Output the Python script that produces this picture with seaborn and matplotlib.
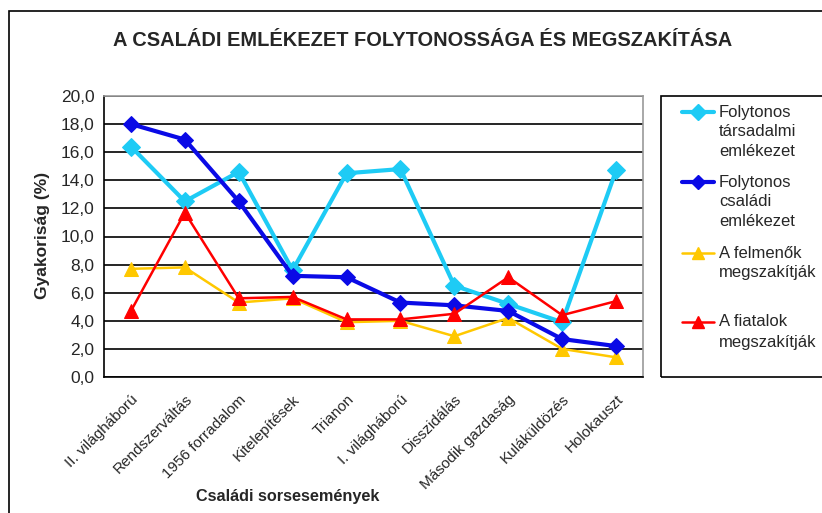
import numpy as np
import pandas as pd
import matplotlib
matplotlib.use("Agg")
import matplotlib.pyplot as plt
import seaborn as sns
from matplotlib.lines import Line2D
from matplotlib.patches import Rectangle
from matplotlib.ticker import FixedLocator

categories = ["II. világháború", "Rendszerváltás", "1956 forradalom", "Kitelepítések",
              "Trianon", "I. világháború", "Disszidálás", "Második gazdaság",
              "Kuláküldözés", "Holokauszt"]

tarsadalmi = [16.4, 12.5, 14.6, 7.6, 14.5, 14.8, 6.5, 5.2, 3.9, 14.7]
csaladi = [18.0, 16.9, 12.5, 7.2, 7.1, 5.3, 5.1, 4.7, 2.7, 2.2]
felmenok = [7.7, 7.8, 5.3, 5.6, 3.9, 4.0, 2.9, 4.2, 2.0, 1.4]
fiatalok = [4.7, 11.7, 5.6, 5.7, 4.1, 4.1, 4.5, 7.1, 4.4, 5.4]

series_names = ["Folytonos\ntársadalmi\nemlékezet", "Folytonos\ncsaládi\nemlékezet",
                "A felmenők\nmegszakítják", "A fiatalok\nmegszakítják"]
yticks = np.arange(0, 20.1, 2)
ytick_labels = [f"{v:.1f}".replace(".", ",") for v in yticks]

colors = ["#1ECBF5", "#0A0AE6", "#FFC800", "#FF0000"]
markers = ["D", "D", "^", "^"]
widths = [3.0, 3.0, 1.8, 1.8]
msizes = [9, 8, 10, 10]

df = pd.DataFrame({
    "esemeny": categories * 4,
    "ertek": tarsadalmi + csaladi + felmenok + fiatalok,
    "sor": np.repeat(series_names, len(categories)),
})

sns.set_style("white")
plt.rcParams["font.family"] = ["Liberation Sans", "DejaVu Sans"]

W, H = 822, 513
fig = plt.figure(figsize=(W / 100, H / 100), dpi=100)
ax = fig.add_axes([104 / W, (H - 377) / H, 539 / W, 281 / H])

for i, name in enumerate(series_names):
    sub = df[df["sor"] == name]
    sns.lineplot(data=sub, x="esemeny", y="ertek", ax=ax, color=colors[i],
                 marker=markers[i], markersize=msizes[i], markeredgecolor=colors[i],
                 linewidth=widths[i], sort=False, legend=False, zorder=3 + i % 2)

ax.set_xlim(-0.5, len(categories) - 0.5)
ax.set_ylim(0, 20)
ax.set_yticks(yticks)
ax.set_yticklabels(ytick_labels)
ax.grid(axis="y", color="black", linewidth=1.2)
ax.set_axisbelow(True)

ax.set_xticks(range(len(categories)))
ax.set_xticklabels(categories, rotation=45, ha="right", rotation_mode="anchor", fontsize=11)
ax.xaxis.set_minor_locator(FixedLocator(np.arange(-0.5, len(categories), 1)))
ax.tick_params(axis="x", which="major", length=0, pad=11)
ax.tick_params(axis="x", which="minor", length=5, width=1, color="black", direction="out")
ax.tick_params(axis="y", length=5, width=1, color="black", direction="out", labelsize=12.5, pad=2)
ax.set_xlabel("")
ax.set_ylabel("")

for side in ["top", "right"]:
    ax.spines[side].set_color("#999999")
    ax.spines[side].set_linewidth(1.2)
for side in ["left", "bottom"]:
    ax.spines[side].set_color("black")
    ax.spines[side].set_linewidth(1.2)

fig.text(423 / W, 1 - 41 / H, "A CSALÁDI EMLÉKEZET FOLYTONOSSÁGA ÉS MEGSZAKÍTÁSA",
         ha="center", va="center", fontsize=14.4, fontweight="bold")
fig.text(42 / W, 1 - 235 / H, "Gyakoriság (%)", rotation=90, ha="center", va="center",
         fontsize=12.5, fontweight="bold")
fig.text(288 / W, 1 - 497 / H, "Családi sorsesemények", ha="center", va="center",
         fontsize=11.7, fontweight="bold")

# outer chart frame and legend box
fig.add_artist(Rectangle((9 / W, -0.1), 1.2, 1 - 11 / H + 0.1, transform=fig.transFigure,
                         fill=False, edgecolor="black", linewidth=1.2))
fig.add_artist(Rectangle((661 / W, 1 - 377 / H), 0.3, (377 - 96) / H, transform=fig.transFigure,
                         fill=False, edgecolor="black", linewidth=1.2))

handle_y = [112, 182, 253, 322]
for i, name in enumerate(series_names):
    yy = 1 - handle_y[i] / H
    fig.add_artist(Line2D([682 / W, 714 / W], [yy, yy], transform=fig.transFigure,
                          color=colors[i], linewidth=widths[i]))
    fig.add_artist(Line2D([698 / W], [yy], transform=fig.transFigure, color=colors[i],
                          marker=markers[i], markersize=msizes[i] - 1, linestyle="none"))
    for j, line in enumerate(name.split("\n")):
        fig.text(719 / W, 1 - (handle_y[i] + 20 * j) / H, line, ha="left", va="center",
                 fontsize=12)

fig.savefig("out.png", dpi=100)
